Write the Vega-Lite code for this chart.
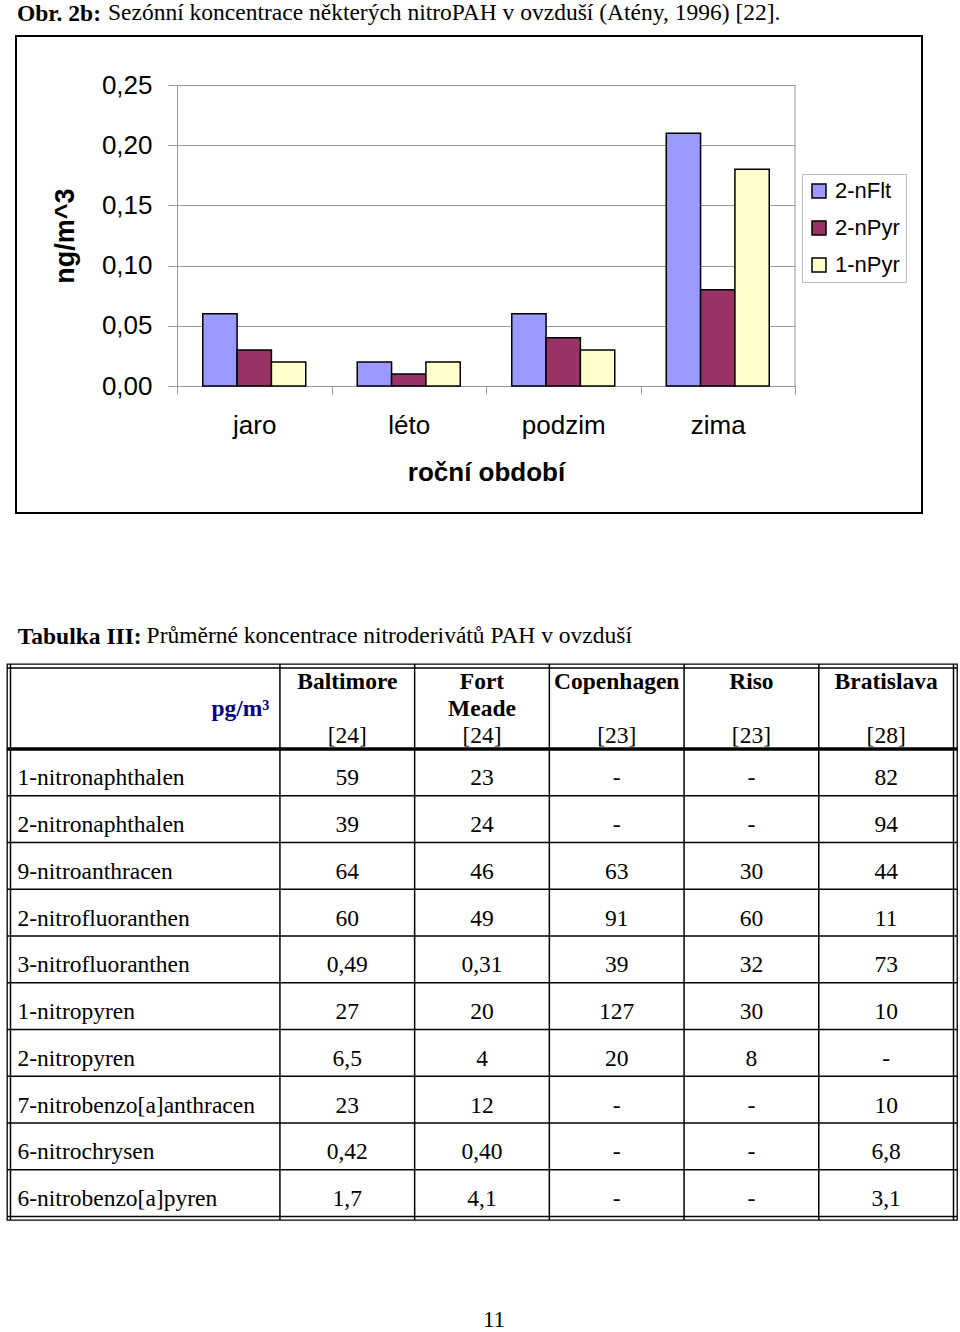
{
  "$schema": "https://vega.github.io/schema/vega-lite/v6.json",
  "background": "white",
  "padding": {"left": 4, "top": 0, "right": 0, "bottom": 0},
  "config": {
    "view": {"stroke": null},
    "text": {"font": "Liberation Serif", "fontSize": 23.5, "color": "black"}
  },
  "datasets": {
    "bars": [
      {"season": "jaro", "series": "2-nFlt", "value": 0.06},
      {"season": "jaro", "series": "2-nPyr", "value": 0.03},
      {"season": "jaro", "series": "1-nPyr", "value": 0.02},
      {"season": "léto", "series": "2-nFlt", "value": 0.02},
      {"season": "léto", "series": "2-nPyr", "value": 0.01},
      {"season": "léto", "series": "1-nPyr", "value": 0.02},
      {"season": "podzim", "series": "2-nFlt", "value": 0.06},
      {"season": "podzim", "series": "2-nPyr", "value": 0.04},
      {"season": "podzim", "series": "1-nPyr", "value": 0.03},
      {"season": "zima", "series": "2-nFlt", "value": 0.21},
      {"season": "zima", "series": "2-nPyr", "value": 0.08},
      {"season": "zima", "series": "1-nPyr", "value": 0.18}
    ],
    "cities": [
      {"city": "Baltimore"},
      {"city": "Fort Meade"},
      {"city": "Copenhagen"},
      {"city": "Riso"},
      {"city": "Bratislava"}
    ],
    "header": [
      {"city": "Baltimore", "line": "1", "text": "Baltimore", "kind": "name"},
      {"city": "Fort Meade", "line": "1", "text": "Fort", "kind": "name"},
      {"city": "Fort Meade", "line": "2", "text": "Meade", "kind": "name"},
      {"city": "Copenhagen", "line": "1", "text": "Copenhagen", "kind": "name"},
      {"city": "Riso", "line": "1", "text": "Riso", "kind": "name"},
      {"city": "Bratislava", "line": "1", "text": "Bratislava", "kind": "name"},
      {"city": "Baltimore", "line": "3", "text": "[24]", "kind": "ref"},
      {"city": "Fort Meade", "line": "3", "text": "[24]", "kind": "ref"},
      {"city": "Copenhagen", "line": "3", "text": "[23]", "kind": "ref"},
      {"city": "Riso", "line": "3", "text": "[23]", "kind": "ref"},
      {"city": "Bratislava", "line": "3", "text": "[28]", "kind": "ref"}
    ],
    "unit": [{"unit": "pg/m³"}],
    "rows": [
      {"substance": "1-nitronaphthalen"},
      {"substance": "2-nitronaphthalen"},
      {"substance": "9-nitroanthracen"},
      {"substance": "2-nitrofluoranthen"},
      {"substance": "3-nitrofluoranthen"},
      {"substance": "1-nitropyren"},
      {"substance": "2-nitropyren"},
      {"substance": "7-nitrobenzo[a]anthracen"},
      {"substance": "6-nitrochrysen"},
      {"substance": "6-nitrobenzo[a]pyren"}
    ],
    "cells": [
      {"substance": "1-nitronaphthalen", "city": "Baltimore", "value": "59"},
      {"substance": "1-nitronaphthalen", "city": "Fort Meade", "value": "23"},
      {"substance": "1-nitronaphthalen", "city": "Copenhagen", "value": "-"},
      {"substance": "1-nitronaphthalen", "city": "Riso", "value": "-"},
      {"substance": "1-nitronaphthalen", "city": "Bratislava", "value": "82"},
      {"substance": "2-nitronaphthalen", "city": "Baltimore", "value": "39"},
      {"substance": "2-nitronaphthalen", "city": "Fort Meade", "value": "24"},
      {"substance": "2-nitronaphthalen", "city": "Copenhagen", "value": "-"},
      {"substance": "2-nitronaphthalen", "city": "Riso", "value": "-"},
      {"substance": "2-nitronaphthalen", "city": "Bratislava", "value": "94"},
      {"substance": "9-nitroanthracen", "city": "Baltimore", "value": "64"},
      {"substance": "9-nitroanthracen", "city": "Fort Meade", "value": "46"},
      {"substance": "9-nitroanthracen", "city": "Copenhagen", "value": "63"},
      {"substance": "9-nitroanthracen", "city": "Riso", "value": "30"},
      {"substance": "9-nitroanthracen", "city": "Bratislava", "value": "44"},
      {"substance": "2-nitrofluoranthen", "city": "Baltimore", "value": "60"},
      {"substance": "2-nitrofluoranthen", "city": "Fort Meade", "value": "49"},
      {"substance": "2-nitrofluoranthen", "city": "Copenhagen", "value": "91"},
      {"substance": "2-nitrofluoranthen", "city": "Riso", "value": "60"},
      {"substance": "2-nitrofluoranthen", "city": "Bratislava", "value": "11"},
      {"substance": "3-nitrofluoranthen", "city": "Baltimore", "value": "0,49"},
      {"substance": "3-nitrofluoranthen", "city": "Fort Meade", "value": "0,31"},
      {"substance": "3-nitrofluoranthen", "city": "Copenhagen", "value": "39"},
      {"substance": "3-nitrofluoranthen", "city": "Riso", "value": "32"},
      {"substance": "3-nitrofluoranthen", "city": "Bratislava", "value": "73"},
      {"substance": "1-nitropyren", "city": "Baltimore", "value": "27"},
      {"substance": "1-nitropyren", "city": "Fort Meade", "value": "20"},
      {"substance": "1-nitropyren", "city": "Copenhagen", "value": "127"},
      {"substance": "1-nitropyren", "city": "Riso", "value": "30"},
      {"substance": "1-nitropyren", "city": "Bratislava", "value": "10"},
      {"substance": "2-nitropyren", "city": "Baltimore", "value": "6,5"},
      {"substance": "2-nitropyren", "city": "Fort Meade", "value": "4"},
      {"substance": "2-nitropyren", "city": "Copenhagen", "value": "20"},
      {"substance": "2-nitropyren", "city": "Riso", "value": "8"},
      {"substance": "2-nitropyren", "city": "Bratislava", "value": "-"},
      {"substance": "7-nitrobenzo[a]anthracen", "city": "Baltimore", "value": "23"},
      {"substance": "7-nitrobenzo[a]anthracen", "city": "Fort Meade", "value": "12"},
      {"substance": "7-nitrobenzo[a]anthracen", "city": "Copenhagen", "value": "-"},
      {"substance": "7-nitrobenzo[a]anthracen", "city": "Riso", "value": "-"},
      {"substance": "7-nitrobenzo[a]anthracen", "city": "Bratislava", "value": "10"},
      {"substance": "6-nitrochrysen", "city": "Baltimore", "value": "0,42"},
      {"substance": "6-nitrochrysen", "city": "Fort Meade", "value": "0,40"},
      {"substance": "6-nitrochrysen", "city": "Copenhagen", "value": "-"},
      {"substance": "6-nitrochrysen", "city": "Riso", "value": "-"},
      {"substance": "6-nitrochrysen", "city": "Bratislava", "value": "6,8"},
      {"substance": "6-nitrobenzo[a]pyren", "city": "Baltimore", "value": "1,7"},
      {"substance": "6-nitrobenzo[a]pyren", "city": "Fort Meade", "value": "4,1"},
      {"substance": "6-nitrobenzo[a]pyren", "city": "Copenhagen", "value": "-"},
      {"substance": "6-nitrobenzo[a]pyren", "city": "Riso", "value": "-"},
      {"substance": "6-nitrobenzo[a]pyren", "city": "Bratislava", "value": "3,1"}
    ]
  },
  "spacing": 110,
  "vconcat": [
    {
      "spacing": 7,
      "title": {
        "text": "Sezónní koncentrace některých nitroPAH v ovzduší (Atény, 1996) [22].",
        "anchor": "start",
        "dx": 101,
        "offset": -23.5,
        "font": "Liberation Serif",
        "fontSize": 23.5,
        "fontWeight": "normal",
        "color": "black"
      },
      "hconcat": [
        {
          "width": 1,
          "height": 1,
          "data": {"values": []},
          "mark": "point",
          "view": {"stroke": null}
        },
        {
          "width": 906,
          "height": 477,
          "view": {"stroke": "black", "strokeWidth": 2},
          "title": {
            "text": "Obr. 2b:",
            "anchor": "start",
            "dx": 1,
            "offset": 11,
            "font": "Liberation Serif",
            "fontSize": 23.5,
            "fontWeight": "bold",
            "color": "black"
          },
          "data": {"name": "bars"},
          "layer": [
            {
              "mark": {"type": "bar", "stroke": "black", "strokeWidth": 1.5},
              "encoding": {
                "x": {
                  "field": "season",
                  "type": "nominal",
                  "scale": {"domain": ["jaro", "léto", "podzim", "zima"], "range": [161, 779], "paddingInner": 0, "paddingOuter": 0},
                  "axis": {
                    "title": "roční období",
                    "offset": -127,
                    "tickBand": "extent",
                    "labelAngle": 0,
                    "labelFont": "Liberation Sans",
                    "labelFontSize": 26,
                    "labelColor": "black",
                    "labelPadding": 18,
                    "labelBaseline": "top",
                    "tickSize": 8,
                    "tickColor": "#999999",
                    "domainColor": "#999999",
                    "grid": false,
                    "titleFont": "Liberation Sans",
                    "titleFontSize": 26,
                    "titleFontWeight": "bold",
                    "titleColor": "black",
                    "titlePadding": 21
                  }
                },
                "xOffset": {
                  "field": "series",
                  "type": "nominal",
                  "scale": {"domain": ["2-nFlt", "2-nPyr", "1-nPyr"], "paddingInner": 0, "paddingOuter": 0.75}
                },
                "y": {
                  "field": "value",
                  "type": "quantitative",
                  "scale": {"domain": [0, 0.25], "range": [350, 49], "nice": false},
                  "axis": {
                    "title": "ng/m^3",
                    "offset": -161,
                    "values": [0, 0.05, 0.1, 0.15, 0.2, 0.25],
                    "labelExpr": "replace(format(datum.value, '.2f'), '.', ',')",
                    "labelFont": "Liberation Sans",
                    "labelFontSize": 26,
                    "labelColor": "black",
                    "labelPadding": 16,
                    "tickSize": 9,
                    "tickColor": "#999999",
                    "domainColor": "#999999",
                    "grid": true,
                    "gridColor": "#999999",
                    "titleFont": "Liberation Sans",
                    "titleFontSize": 27,
                    "titleFontWeight": "bold",
                    "titleColor": "black",
                    "titlePadding": 22
                  }
                },
                "color": {
                  "field": "series",
                  "type": "nominal",
                  "scale": {"domain": ["2-nFlt", "2-nPyr", "1-nPyr"], "range": ["#9999ff", "#993366", "#ffffcc"]},
                  "legend": {
                    "orient": "none",
                    "legendX": 795,
                    "legendY": 138,
                    "title": null,
                    "symbolType": "square",
                    "symbolSize": 196,
                    "symbolStrokeColor": "black",
                    "symbolStrokeWidth": 1.5,
                    "symbolOpacity": 1,
                    "labelFont": "Liberation Sans",
                    "labelFontSize": 22,
                    "labelColor": "black",
                    "labelOffset": 5,
                    "rowPadding": 15,
                    "padding": 6,
                    "strokeColor": "#bbbbbb",
                    "fillColor": "white"
                  }
                }
              }
            },
            {
              "transform": [{"filter": "datum.season === 'zima' && datum.series === '2-nFlt'"}],
              "mark": {"type": "rule", "color": "#999999", "strokeWidth": 1},
              "encoding": {
                "x": {"field": "season", "type": "nominal", "bandPosition": 1, "scale": {"domain": ["jaro", "léto", "podzim", "zima"]}},
                "y": {"datum": 0, "type": "quantitative"},
                "y2": {"datum": 0.25}
              }
            }
          ]
        }
      ]
    },
    {
      "spacing": 0,
      "bounds": "flush",
      "title": {
        "text": "Průměrné koncentrace nitroderivátů PAH v ovzduší",
        "anchor": "start",
        "dx": 142,
        "offset": -23.5,
        "font": "Liberation Serif",
        "fontSize": 23.5,
        "fontWeight": "normal",
        "color": "black"
      },
      "vconcat": [
        {
          "width": 950,
          "height": 85,
          "view": {"stroke": "black", "strokeWidth": 1.3},
          "title": {
            "text": "Tabulka III:",
            "anchor": "start",
            "dx": 11.5,
            "offset": 15,
            "font": "Liberation Serif",
            "fontSize": 23.5,
            "fontWeight": "bold",
            "color": "black"
          },
          "layer": [
            {
              "data": {"name": "cities"},
              "mark": {"type": "rule", "color": "black", "strokeWidth": 1.5},
              "encoding": {
                "x": {"field": "city", "type": "nominal", "bandPosition": 0,
                      "scale": {"domain": ["_name1", "_name2", "Baltimore", "Fort Meade", "Copenhagen", "Riso", "Bratislava"], "paddingInner": 0, "paddingOuter": 0.026},
                      "axis": null}
              }
            },
            {
              "data": {"name": "cities"},
              "transform": [{"filter": "datum.city === 'Bratislava'"}],
              "mark": {"type": "rule", "color": "black", "strokeWidth": 1.5},
              "encoding": {
                "x": {"field": "city", "type": "nominal", "bandPosition": 1}
              }
            },
            {
              "data": {"name": "unit"},
              "mark": {"type": "rule", "color": "black", "strokeWidth": 1.5},
              "encoding": {
                "x": {"datum": "_name1", "type": "nominal", "bandPosition": 0}
              }
            },
            {
              "data": {"name": "unit"},
              "mark": {"type": "rule", "color": "black", "strokeWidth": 1.5},
              "encoding": {
                "y": {"datum": "1", "type": "ordinal", "bandPosition": 0,
                      "scale": {"type": "band", "domain": ["1", "2", "3"], "paddingInner": 0, "paddingOuter": 0.074, "align": 1},
                      "axis": null}
              }
            },
            {
              "data": {"name": "header"},
              "transform": [{"filter": "datum.kind === 'name'"}],
              "mark": {"type": "text", "fontWeight": "bold", "baseline": "middle", "dy": 1},
              "encoding": {
                "x": {"field": "city", "type": "nominal"},
                "y": {"field": "line", "type": "ordinal"},
                "text": {"field": "text"}
              }
            },
            {
              "data": {"name": "header"},
              "transform": [{"filter": "datum.kind === 'ref'"}],
              "mark": {"type": "text", "fontWeight": "normal", "baseline": "middle", "dy": 1},
              "encoding": {
                "x": {"field": "city", "type": "nominal"},
                "y": {"field": "line", "type": "ordinal"},
                "text": {"field": "text"}
              }
            },
            {
              "data": {"name": "unit"},
              "mark": {"type": "text", "fontWeight": "bold", "baseline": "middle", "align": "right", "color": "#000080", "dx": -10.5, "dy": 1},
              "encoding": {
                "x": {"datum": "_name2", "type": "nominal", "bandPosition": 1},
                "y": {"datum": "2", "type": "ordinal"},
                "text": {"field": "unit"}
              }
            }
          ]
        },
        {
          "width": 950,
          "height": 471,
          "view": {"stroke": "black", "strokeWidth": 1.3},
          "title": {
            "text": "11",
            "orient": "bottom",
            "anchor": "middle",
            "dx": 12,
            "offset": 88,
            "font": "Liberation Serif",
            "fontSize": 23,
            "fontWeight": "normal",
            "color": "black"
          },
          "layer": [
            {
              "data": {"name": "rows"},
              "mark": {"type": "rule", "color": "black", "strokeWidth": 1.5},
              "encoding": {
                "y": {"field": "substance", "type": "nominal", "bandPosition": 0,
                      "scale": {"domain": ["1-nitronaphthalen", "2-nitronaphthalen", "9-nitroanthracen", "2-nitrofluoranthen", "3-nitrofluoranthen", "1-nitropyren", "2-nitropyren", "7-nitrobenzo[a]anthracen", "6-nitrochrysen", "6-nitrobenzo[a]pyren"], "paddingInner": 0, "paddingOuter": 0.0374, "align": 0},
                      "axis": null}
              }
            },
            {
              "data": {"name": "rows"},
              "transform": [{"filter": "datum.substance === '1-nitronaphthalen'"}],
              "mark": {"type": "rule", "color": "black", "strokeWidth": 3.5},
              "encoding": {
                "y": {"field": "substance", "type": "nominal", "bandPosition": 0}
              }
            },
            {
              "data": {"name": "rows"},
              "transform": [{"filter": "datum.substance === '6-nitrobenzo[a]pyren'"}],
              "mark": {"type": "rule", "color": "black", "strokeWidth": 1.5},
              "encoding": {
                "y": {"field": "substance", "type": "nominal", "bandPosition": 1}
              }
            },
            {
              "data": {"name": "cities"},
              "mark": {"type": "rule", "color": "black", "strokeWidth": 1.5},
              "encoding": {
                "x": {"field": "city", "type": "nominal", "bandPosition": 0,
                      "scale": {"domain": ["_name1", "_name2", "Baltimore", "Fort Meade", "Copenhagen", "Riso", "Bratislava"], "paddingInner": 0, "paddingOuter": 0.026},
                      "axis": null}
              }
            },
            {
              "data": {"name": "cities"},
              "transform": [{"filter": "datum.city === 'Bratislava'"}],
              "mark": {"type": "rule", "color": "black", "strokeWidth": 1.5},
              "encoding": {
                "x": {"field": "city", "type": "nominal", "bandPosition": 1}
              }
            },
            {
              "data": {"name": "unit"},
              "mark": {"type": "rule", "color": "black", "strokeWidth": 1.5},
              "encoding": {
                "x": {"datum": "_name1", "type": "nominal", "bandPosition": 0}
              }
            },
            {
              "data": {"name": "rows"},
              "mark": {"type": "text", "align": "left", "baseline": "middle", "dx": 7, "dy": 6},
              "encoding": {
                "x": {"datum": "_name1", "type": "nominal", "bandPosition": 0},
                "y": {"field": "substance", "type": "nominal"},
                "text": {"field": "substance"}
              }
            },
            {
              "data": {"name": "cells"},
              "mark": {"type": "text", "align": "center", "baseline": "middle", "dy": 6},
              "encoding": {
                "x": {"field": "city", "type": "nominal"},
                "y": {"field": "substance", "type": "nominal"},
                "text": {"field": "value"}
              }
            }
          ]
        }
      ]
    }
  ]
}
